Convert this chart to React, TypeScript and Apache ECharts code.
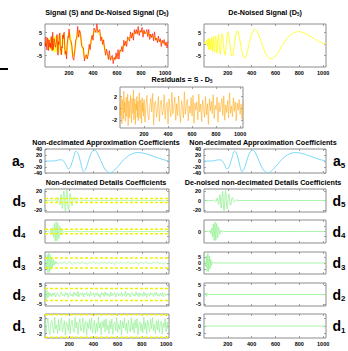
import React, { useEffect, useRef } from "react";
import * as echarts from "echarts";

// ---------- DATA ----------
// De-noised signal D5: samples x = 0..196 step 4, then 200..1024 step 8
const denoisedSignal = [
  0, 0.1, 1.0, 0.17, 0, 1.15, 1.87, -1.02, -1.1, 2.17,
  -2.47, 2.56, -2.33, 1.43, 0.55, -2.66, 2.73, 0.42, -3.29, 0.97,
  3.3, -1.0, -3.6, -0.26, 3.59, 2.44, -1.76, -3.99, -2.11, 1.75,
  4.1, 3.21, 0, -3.2, -4.41, -3.14, -0.25, 2.73, 4.46, 4.34,
  2.53, -0.14, -2.73, -4.44, -4.87, -4.0, -2.16, 0.15, 2.41, 4.13,
  5.06, 4.19, 0.8, -3.0, -5.21, -5.14, -3.07, 0, 3.02, 5.08,
  5.79, 5.1, 3.35, 1.0, -1.49, -3.64, -5.2, -6.01, -6.04, -5.34,
  -4.1, -2.48, -0.66, 1.13, 2.83, 4.25, 5.33, 6.05, 6.38, 6.34,
  5.96, 5.31, 4.42, 3.36, 2.2, 0.97, -0.25, -1.42, -2.51, -3.51,
  -4.38, -5.1, -5.67, -6.09, -6.35, -6.46, -6.43, -6.28, -6.03, -5.66,
  -5.2, -4.68, -4.1, -3.46, -2.83, -2.15, -1.49, -0.78, -0.12, 0.51,
  1.15, 1.72, 2.27, 2.77, 3.25, 3.67, 4.03, 4.36, 4.65, 4.87,
  5.07, 5.2, 5.3, 5.36, 5.37, 5.35, 5.3, 5.22, 5.1, 4.96,
  4.81, 4.62, 4.42, 4.2, 3.97, 3.73, 3.48, 3.23, 2.97, 2.71,
  2.45, 2.19, 1.94, 1.69, 1.45, 1.22, 1.0, 0.8, 0.6, 0.43,
  0.28, 0.15, 0.05, 0,
];
// Residuals S - D5 at the same sample positions
const residuals = [
  0.8, -1.2, 2.1, -0.4, -2.6, 1.5, 0.3, -1.8, 2.9, -0.7,
  1.1, -2.2, 0.5, 1.9, -1.4, -0.2, 2.4, -2.9, 0.9, 1.3,
  -1.6, 0.1, 2.2, -1.1, -2.4, 1.7, 0.6, -0.9, 3.1, -1.9,
  0.4, 1.6, -2.7, 0.8, -0.3, 2.0, -1.5, 1.2, -2.1, 0.2,
  2.6, -0.8, -1.7, 1.4, 0.7, -2.5, 1.8, -0.5, 0.9, -1.3,
  1.5, -2.3, 0.6, 2.2, -1.0, -1.9, 0.3, 1.7, -0.6, 2.5,
  -2.8, 0.9, 1.2, -1.5, -0.1, 2.0, -2.2, 0.7, 1.4, -1.1,
  -0.4, 2.3, -1.8, 0.5, 1.0, -2.6, 1.6, -0.2, -1.4, 2.7,
  -0.9, 0.3, 1.9, -2.0, 0.8, -1.2, 2.1, -0.7, -2.4, 1.3,
  0.2, -1.6, 2.8, -1.0, 0.6, 1.5, -2.1, 0.4, -0.8, 1.8,
  -1.3, 2.2, -2.5, 0.9, -0.3, 1.1, -1.9, 2.4, -0.6, 0.7,
  -2.2, 1.4, 0.1, -1.5, 2.0, -1.1, 0.8, -2.7, 1.6, -0.4,
  1.2, -0.9, 2.3, -1.7, 0.5, -0.2, 1.9, -2.3, 1.0, -0.6,
  0.3, 1.7, -1.2, 2.1, -2.0, 0.6, -0.7, 1.3, -1.6, 2.6,
  -0.8, 0.4, -1.4, 1.8, -0.5, 1.1, -2.1, 0.9, -0.3, 1.5,
  -1.0, 0.7, -1.8, 1.2,
];
// Non-decimated approximation a5: [x, value]
const approxA5 = [
  [0, 0], [50, 0], [90, 1], [120, 4], [145, 3], [160, -4], [175, -14], [192, -26],
  [208, -22], [222, -6], [238, 14], [255, 33], [270, 28], [285, 10], [300, -14],
  [318, -35], [335, -28], [352, -8], [370, 14], [388, 31], [405, 37], [422, 33],
  [440, 20], [460, 2], [480, -16], [500, -30], [520, -37], [538, -39], [560, -35],
  [590, -24], [620, -10], [650, 4], [680, 15], [720, 24], [760, 28], [800, 27],
  [850, 22], [900, 15], [950, 8], [1000, 2], [1024, 0],
];
// Non-decimated details (left) and de-noised details (right): [x, value]
const detailD5 = [
  [0, 0], [50, 0.5], [70, -1], [85, 2], [98, -4], [110, 6], [122, -9], [133, 13],
  [144, -17], [156, 20], [168, -22], [181, 22], [194, -19], [208, 15], [223, -11],
  [239, 7], [256, -4], [274, 2], [292, -1], [320, 0.5], [380, -0.8], [440, 0.6],
  [500, -0.4], [560, 0.7], [620, -0.5], [680, 0.4], [740, -0.6], [800, 0.5],
  [860, -0.3], [920, 0.4], [980, -0.5], [1024, 0],
];
const denoisedD5 = [
  [0, 0], [70, 0], [85, 1], [98, -3], [110, 5], [122, -8], [133, 12], [144, -16],
  [156, 19], [168, -21], [181, 21], [194, -18], [208, 14], [223, -10], [239, 6],
  [256, -3], [274, 1], [292, 0], [1024, 0],
];
const detailD4 = [
  [0, 0], [30, 0.5], [42, -2], [50, 3], [57, -5], [64, 8], [71, -12], [78, 16],
  [85, -19], [92, 20], [99, -19], [107, 17], [115, -14], [123, 10], [132, -7],
  [141, 4], [151, -2], [162, 1], [180, -0.5], [240, 0.6], [300, -0.5], [360, 0.4],
  [420, -0.6], [480, 0.5], [540, -0.4], [600, 0.6], [660, -0.5], [720, 0.3],
  [780, -0.5], [840, 0.4], [900, -0.4], [960, 0.5], [1024, 0],
];
const denoisedD4 = [
  [0, 0], [35, 0], [42, -1], [50, 2], [57, -4], [64, 7], [71, -11], [78, 15],
  [85, -18], [92, 19], [99, -18], [107, 16], [115, -13], [123, 9], [132, -6],
  [141, 3], [151, -1], [165, 0], [1024, 0],
];
const detailD3Burst = [
  [0, 0], [6, 2], [12, -5], [18, 7], [24, -8], [30, 8.5], [36, -8], [42, 7],
  [48, -6], [54, 5], [60, -4], [67, 3], [74, -2], [82, 1.5], [90, -1],
];
// d3 (left) after the burst: x = 96 + 16 i
const detailD3Tail = [
  0.8, -1.1, 0.5, -0.6, 1.2, -0.9, 0.3, 1.0, -1.3, 0.6, -0.4, 0.9, -0.8, 1.1, -0.5, 0.2,
  -1.0, 0.7, -0.3, 1.2, -0.7, 0.4, -1.1, 0.8, -0.2, 0.6, -0.9, 1.0, -0.6, 0.3, -1.2, 0.9,
  -0.4, 0.7, -1.0, 0.5, -0.3, 1.1, -0.8, 0.4, -0.6, 0.9, -1.1, 0.3, 0.6, -0.7, 1.0, -0.5,
  0.2, -0.9, 0.8, -0.4, 1.1, -0.6, 0.3, -0.8, 0.5, -1.0, 0.4,
];
const denoisedD3 = [
  [0, 0], [8, 1], [14, -3], [20, 6], [26, -7], [32, 8], [38, -7], [44, 6],
  [50, -5], [56, 3], [62, -2], [70, 1], [78, 0], [1024, 0],
];
// d2 and d1 (left): x = 8 i
const detailD2 = [
  2.5, -3.0, 2.2, -1.8, 1.2, -0.9, 0.6, -1.1, 0.8, -0.5,
  1.0, -1.3, 0.4, 0.9, -0.7, -1.2, 0.5, 1.4, -0.6, 0.2,
  -1.0, 1.1, -0.3, 0.8, -1.5, 0.6, 0.9, -0.8, 0.3, -1.1,
  1.3, -0.4, 0.7, -0.9, 1.6, -1.2, 0.2, 0.8, -0.5, 1.0,
  -1.4, 0.5, -0.2, 1.2, -0.8, 0.4, -1.0, 1.5, -0.6, 0.3,
  0.9, -1.3, 0.6, -0.4, 1.1, -0.9, 0.2, -1.6, 1.0, -0.3,
  0.7, -1.1, 1.4, -0.5, 0.8, -0.7, 0.3, -1.2, 1.3, -0.8,
  0.5, -0.2, 1.0, -1.4, 0.6, 0.9, -0.9, 0.4, -0.6, 1.2,
  -1.0, 0.3, -0.5, 1.7, -1.1, 0.6, -0.3, 0.8, -1.3, 0.5,
  1.1, -0.7, 0.2, -0.9, 1.4, -0.4, 0.7, -1.2, 0.9, -0.5,
  0.3, -1.0, 1.2, -0.6, 0.8, -1.5, 0.4, 0.6, -0.8, 1.1,
  -0.3, 0.5, -1.1, 0.9, -0.4, 1.3, -0.7, 0.2, -0.9, 0.6,
  -0.5, 1.0, -1.2, 0.4, 0.7, -0.6, 0.3, -0.2,
];
const denoisedD2 = [[0, 0], [10, 0], [16, 0.8], [22, -1], [28, 0.6], [34, 0], [1024, 0]];
const detailD1 = [
  1.2, -1.8, 0.6, 2.1, -1.1, -2.3, 0.9, 1.5, -0.4, -1.9,
  2.4, -0.8, 0.3, -2.0, 1.7, -1.3, 0.7, 2.2, -1.6, -0.2,
  1.4, -2.4, 1.0, 0.4, -1.2, 2.0, -2.1, 0.8, 1.6, -0.9,
  -1.7, 2.3, -0.5, 1.1, -2.2, 0.6, 1.9, -1.4, -0.3, 2.1,
  -1.8, 0.5, 1.3, -2.5, 0.9, -0.7, 1.8, -1.1, 2.2, -1.9,
  0.2, 1.5, -2.0, 0.7, -1.5, 2.4, -0.6, 1.0, -2.3, 1.2,
  -0.4, 1.7, -1.6, 2.0, -1.0, 0.3, -2.1, 1.4, -0.8, 1.9,
  -2.2, 0.6, 1.1, -1.3, 2.3, -1.7, 0.4, -0.9, 1.6, -2.4,
  1.3, -0.5, 2.1, -1.2, 0.8, -2.0, 1.5, -0.3, -1.6, 2.2,
  -1.1, 0.9, -1.9, 1.7, -0.6, 2.0, -2.3, 0.5, 1.2, -1.4,
  0.7, -1.8, 2.4, -0.9, 1.0, -2.1, 1.6, -0.2, -1.5, 1.9,
  -0.7, 2.2, -1.3, 0.4, -2.0, 1.4, -1.0, 1.8, -1.7, 0.6,
  1.3, -2.2, 0.8, -0.4, 2.0, -1.5, 1.1, -0.9,
];
const denoisedD1 = [[0, 0], [1024, 0]];
// Thresholds for d5, d4, d3, d2, d1
const thresholds = [4.2, 4.7, 4.2, 3.1, 3.0];
// Tick labels
const xTickValues = [200, 400, 600, 800, 1000];
const signalTicks = [-5, 0, 5];
const residualTicks = [-2, 0, 2];
const a5Ticks = [-40, -20, 0, 20, 40];
const detailTicks = [[-20, 0, 20], [-10, 0, 10], [-5, 0, 5], [-5, 0, 5], [-2, 0, 2]];
const detailNames = ["5", "4", "3", "2", "1"];

// ---------- derived series ----------
const sampleX = (i: number) => (i < 50 ? i * 4 : 200 + (i - 50) * 8);
const dSeries = denoisedSignal.map((v, i) => [sampleX(i), v]);
const rSeries = residuals.map((v, i) => [sampleX(i), v]);
const sSeries = denoisedSignal.map((v, i) => [sampleX(i), +(v + residuals[i]).toFixed(2)]);
const d3Left = [...detailD3Burst, ...detailD3Tail.map((v, i) => [96 + 16 * i, v])];
const d2Left = detailD2.map((v, i) => [8 * i, v]);
const d1Left = detailD1.map((v, i) => [8 * i, v]);

const FONT = "Liberation Sans, Arial, Helvetica, sans-serif";
const C_SIG = "#ff1a00";
const C_DEN = "#ffff33";
const C_RES = "#ffad1f";
const C_APP = "#7cd8f7";
const C_DET = "#94f094";
const C_THR = "#f2f200";
const C_BOX = "#8c8c8c";

export default function App() {
  const ref = useRef<HTMLDivElement>(null);
  useEffect(() => {
    if (!ref.current) return;
    const chart = echarts.init(ref.current, undefined, { renderer: "svg" });
    const grids: any[] = [];
    const xAxes: any[] = [];
    const yAxes: any[] = [];
    const series: any[] = [];
    const lbl = { fontSize: 5.5, fontWeight: "bold", color: "#000", fontFamily: FONT };
    const tick = (vals: number[]) => ({
      show: true, inside: true, length: 2, customValues: vals, lineStyle: { color: C_BOX, width: 0.8 },
    });

    const addPanel = (
      box: number[],
      ylim: number[],
      yTicks: number[],
      showX: boolean,
      lines: { data: any[]; color: string; width?: number; dashed?: boolean; smooth?: boolean }[]
    ) => {
      const gi = grids.length;
      grids.push({
        left: box[0], top: box[1], width: box[2], height: box[3],
        show: true, borderColor: C_BOX, borderWidth: 1, backgroundColor: "#fff",
      });
      const xBase = {
        gridIndex: gi, type: "value", min: 0, max: 1024,
        axisLine: { show: false, onZero: false }, splitLine: { show: false },
      };
      xAxes.push({
        ...xBase, position: "bottom", axisTick: tick(xTickValues),
        axisLabel: { show: showX, customValues: xTickValues, margin: 3, formatter: (v: number) => String(v), ...lbl },
      });
      xAxes.push({ ...xBase, position: "top", axisTick: tick(xTickValues), axisLabel: { show: false } });
      const yBase = {
        gridIndex: gi, type: "value", min: ylim[0], max: ylim[1],
        axisLine: { show: false, onZero: false }, splitLine: { show: false },
      };
      yAxes.push({
        ...yBase, position: "left", axisTick: tick(yTicks),
        axisLabel: { show: true, customValues: yTicks, margin: 3, formatter: (v: number) => String(v), ...lbl },
      });
      yAxes.push({ ...yBase, position: "right", axisTick: tick(yTicks), axisLabel: { show: false } });
      lines.forEach((ln) => {
        series.push({
          type: "line", xAxisIndex: gi * 2, yAxisIndex: gi * 2, data: ln.data,
          showSymbol: false, symbol: "none", silent: true, smooth: ln.smooth ? 0.4 : false,
          clip: true,
          lineStyle: { color: ln.color, width: ln.width ?? 1, type: ln.dashed ? [3, 2] : "solid" },
        });
      });
    };

    const LX = 45, LW = 124, RX = 204, RW = 122;
    // top row
    addPanel([LX, 24, 123, 43], [-10, 8.7], signalTicks, true, [
      { data: dSeries, color: C_DEN, width: 1.8 },
      { data: sSeries, color: C_SIG, width: 0.7 },
    ]);
    addPanel([RX, 24, RW, 43], [-10, 8.7], signalTicks, true, [{ data: dSeries, color: C_DEN, width: 1 }]);
    // residuals
    addPanel([120, 87, 123, 41], [-3.3, 3.6], residualTicks, true, [{ data: rSeries, color: C_RES, width: 0.6 }]);
    // a5
    addPanel([LX, 149, LW, 24], [-40, 40], a5Ticks, false, [{ data: approxA5, color: C_APP, width: 1, smooth: true }]);
    addPanel([RX, 149, RW, 24], [-40, 40], a5Ticks, false, [{ data: approxA5, color: C_APP, width: 1, smooth: true }]);
    // details
    const rows = [
      [189, 23, -24, 24],
      [220, 23, -23, 23],
      [252, 22, -9.2, 9.2],
      [283, 23, -6, 6],
      [314, 24, -3.2, 3.2],
    ];
    const leftData = [detailD5, detailD4, d3Left, d2Left, d1Left];
    const rightData = [denoisedD5, denoisedD4, denoisedD3, denoisedD2, denoisedD1];
    rows.forEach((r, k) => {
      const th = thresholds[k];
      addPanel([LX, r[0], LW, r[1]], [r[2], r[3]], detailTicks[k], k === 4, [
        { data: leftData[k], color: C_DET, width: 0.7, smooth: k < 2 },
        { data: [[0, th], [1024, th]], color: C_THR, width: 1.5, dashed: true },
        { data: [[0, -th], [1024, -th]], color: C_THR, width: 1.5, dashed: true },
      ]);
      addPanel([RX, r[0], RW, r[1]], [r[2], r[3]], detailTicks[k], k === 4, [
        { data: rightData[k], color: C_DET, width: 0.8, smooth: k < 2 },
      ]);
    });

    const title = (text: string, x: number, y: number) => ({
      type: "text", x, y, silent: true,
      style: {
        text, fontSize: 7.2, fontWeight: "bold", fontFamily: FONT, fill: "#000",
        align: "center", verticalAlign: "middle",
        rich: { s: { fontSize: 4.5, fontWeight: "bold", fontFamily: FONT, padding: [4, 0, 0, 0] } },
      },
    });
    const big = (letter: string, sub: string, x: number, y: number) => ({
      type: "text", x, y, silent: true,
      style: {
        text: letter + "{s|" + sub + "}", fontSize: 14, fontWeight: "bold", fontFamily: FONT, fill: "#000",
        align: "center", verticalAlign: "middle",
        rich: { s: { fontSize: 8, fontWeight: "bold", fontFamily: FONT, padding: [8, 0, 0, 0] } },
      },
    });
    const graphics: any[] = [
      { type: "rect", shape: { x: 0, y: 68, width: 8, height: 2 }, style: { fill: "#000" }, silent: true },
      title("Signal (S) and De-Noised Signal (D{s|5})", 107, 12),
      title("De-Noised Signal (D{s|5})", 265, 12),
      title("Residuals = S - D{s|5}", 182, 79),
      title("Non-decimated Approximation Coefficients", 106, 142),
      title("Non-decimated Approximation Coefficients", 263, 142),
      title("Non-decimated Details Coefficients", 106, 182),
      title("De-noised non-decimated Details Coefficients", 263, 182),
      big("a", "5", 18, 161),
      big("a", "5", 339, 161),
    ];
    rows.forEach((r, k) => {
      const cy = r[0] + r[1] / 2;
      graphics.push(big("d", detailNames[k], 19, cy));
      graphics.push(big("d", detailNames[k], 339, cy));
    });

    chart.setOption({
      animation: false,
      backgroundColor: "#fff",
      grid: grids,
      xAxis: xAxes,
      yAxis: yAxes,
      series,
      graphic: graphics,
    });
    return () => chart.dispose();
  }, []);
  return (
    <div
      ref={ref}
      style={{ position: "absolute", left: 0, top: 0, width: 348, height: 351, background: "#fff" }}
    />
  );
}
